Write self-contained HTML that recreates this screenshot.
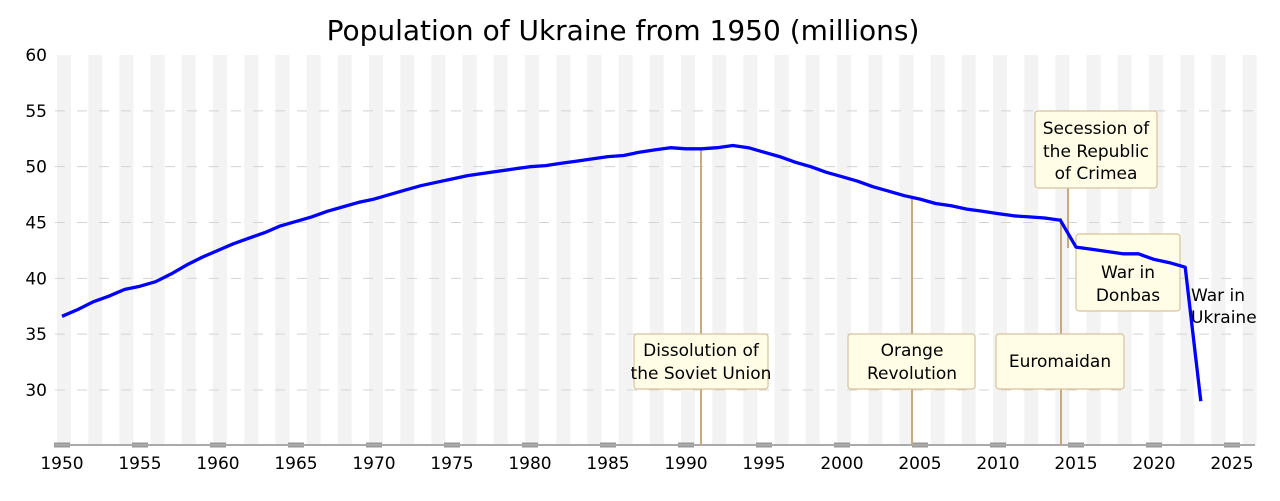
<!DOCTYPE html>
<html><head><meta charset="utf-8"><style>
html,body{margin:0;padding:0;background:#fff;}
svg{display:block;font-family:"DejaVu Sans","Liberation Sans",sans-serif;}
</style></head><body>
<svg id="s" width="1280" height="501" viewBox="0 0 1280 501" xmlns="http://www.w3.org/2000/svg">
<g id="stripes"></g>
<g id="grid"></g>
<g id="ticks"></g>
<line x1="55" y1="445" x2="1255" y2="445" stroke="#aaa" stroke-width="2"/>
<g stroke="#c8aa80" stroke-width="2">
<line x1="701" y1="150" x2="701" y2="445"/>
<line x1="912" y1="198" x2="912" y2="445"/>
<line x1="1061" y1="218" x2="1061" y2="445"/>
<line x1="1068" y1="188" x2="1068" y2="248"/>
</g>
<g fill="#fffde6" stroke="#d6c29c" stroke-width="1.2">
<rect x="634" y="334" width="134" height="55" rx="3"/>
<rect x="848" y="334" width="127" height="55" rx="3"/>
<rect x="996" y="334" width="128" height="55" rx="3"/>
<rect x="1035" y="111" width="122" height="77" rx="3"/>
<rect x="1076" y="234" width="104" height="77" rx="3"/>
</g>
<polyline id="line" fill="none" stroke="#0000ff" stroke-width="3.3" stroke-linejoin="round"/>
<g font-size="17" fill="#000" text-anchor="middle">
<text x="701" y="356">Dissolution of</text>
<text x="701" y="379">the Soviet Union</text>
<text x="912" y="356">Orange</text>
<text x="912" y="379">Revolution</text>
<text x="1060" y="367">Euromaidan</text>
<text x="1096" y="134">Secession of</text>
<text x="1096" y="157">the Republic</text>
<text x="1096" y="179">of Crimea</text>
<text x="1128" y="278">War in</text>
<text x="1128" y="301">Donbas</text>
<text x="1191" y="301" text-anchor="start">War in</text>
<text x="1191" y="323" text-anchor="start">Ukraine</text>
</g>
<g id="ylab" font-size="17" text-anchor="end"></g>
<g id="xlab" font-size="17" text-anchor="middle"></g>
<text x="623" y="40" font-size="28" text-anchor="middle">Population of Ukraine from 1950 (millions)</text>
</svg>
<script>
var NS="http://www.w3.org/2000/svg";
function el(p,t,a,txt){var e=document.createElementNS(NS,t);for(var k in a)e.setAttribute(k,a[k]);if(txt!=null)e.textContent=txt;document.getElementById(p).appendChild(e);return e;}
function X(y){return 62+15.6*(y-1950);}
function Y(v){return 55+(60-v)*11.167;}
for(var k=0;k<39;k++)el("stripes","rect",{x:57+31.2*k,y:55,width:14,height:390,fill:"#f3f3f3"});
for(var v=30;v<=55;v+=5)el("grid","line",{x1:55,x2:1255,y1:Y(v),y2:Y(v),stroke:"#d4d4d4","stroke-width":1,"stroke-dasharray":"10,12"});
for(var v=30;v<=60;v+=5)el("ylab","text",{x:47,y:Y(v)+6},String(v));
for(var y=1950;y<=2025;y+=5){el("ticks","rect",{x:X(y)-8,y:442.5,width:16,height:5,fill:"#999"});el("xlab","text",{x:X(y),y:469},String(y));}
var d=[36.6,37.2,37.9,38.4,39.0,39.3,39.7,40.4,41.2,41.9,42.5,43.1,43.6,44.1,44.7,45.1,45.5,46.0,46.4,46.8,47.1,47.5,47.9,48.3,48.6,48.9,49.2,49.4,49.6,49.8,50.0,50.1,50.3,50.5,50.7,50.9,51.0,51.3,51.5,51.7,51.6,51.6,51.7,51.9,51.7,51.3,50.9,50.4,50.0,49.5,49.1,48.7,48.2,47.8,47.4,47.1,46.7,46.5,46.2,46.0,45.8,45.6,45.5,45.4,45.2,42.8,42.6,42.4,42.2,42.2,41.7,41.4,41.0,29.0];
var pts=d.map(function(v,i){return X(1950+i).toFixed(1)+","+Y(v).toFixed(1);}).join(" ");
document.getElementById("line").setAttribute("points",pts);
</script>
</body></html>
